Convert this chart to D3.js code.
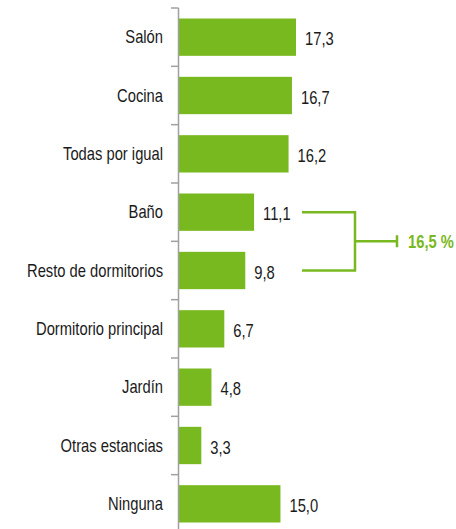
<!DOCTYPE html>
<html lang="es">
<head>
<meta charset="UTF-8">
<title>Estancias</title>
<script src="https://d3js.org/d3.v7.min.js"></script>
<style>
  body { margin: 0; background: #fff; }
  text { font-family: "Liberation Sans", Arial, sans-serif; }
</style>
</head>
<body>
<div id="chart"></div>
<script>
// data
var categories = ["Salón", "Cocina", "Todas por igual", "Baño", "Resto de dormitorios",
                  "Dormitorio principal", "Jardín", "Otras estancias", "Ninguna"]
var values = [17.3, 16.7, 16.2, 11.1, 9.8, 6.7, 4.8, 3.3, 15.0]
var groupCats = ["Baño", "Resto de dormitorios"]
var groupLabel = "16,5 %"

var width = 456
var height = 529
var green = "#79b920"
var squeeze = 0.82   // fake a condensed face

var svg = d3.select("#chart")
  .append("svg")
    .attr("width", width)
    .attr("height", height)

var data = categories.map(function(c, i){ return {cat: c, value: values[i]} })

var x0 = 179
var x = d3.scaleLinear()
  .domain([0, 17.3])
  .range([x0, 296])

var y = d3.scaleBand()
  .domain(categories)
  .range([8, 533])
  .paddingInner(0.36)
  .paddingOuter(0.18)

var gap = (y.step() - y.bandwidth()) / 2
var fmt = function(v){ return d3.format(".1f")(v).replace(".", ",") }
var place = function(px, py){ return "translate(" + px + "," + py + ") scale(" + squeeze + ",1)" }

// bars
svg.append("g")
  .selectAll("rect")
  .data(data)
  .enter()
  .append("rect")
    .attr("x", x(0))
    .attr("y", function(d){ return y(d.cat) })
    .attr("width", function(d){ return x(d.value) - x(0) })
    .attr("height", y.bandwidth())
    .attr("fill", green)

// axis line + ticks at band boundaries
var axis = svg.append("g").attr("stroke", "#a0a0a0").attr("stroke-width", 1.5)
axis.append("line")
  .attr("x1", x0 - 0.5).attr("x2", x0 - 0.5)
  .attr("y1", y.range()[0]).attr("y2", y.range()[1])
axis.selectAll("line.tick")
  .data(categories)
  .enter()
  .append("line")
    .attr("class", "tick")
    .attr("x1", x0 - 8).attr("x2", x0 - 0.5)
    .attr("y1", function(d){ return y(d) - gap })
    .attr("y2", function(d){ return y(d) - gap })

// category labels
svg.append("g")
  .selectAll("text")
  .data(data)
  .enter()
  .append("text")
    .attr("transform", function(d){ return place(163, y(d.cat) + y.bandwidth() / 2) })
    .attr("dy", "0.35em")
    .attr("text-anchor", "end")
    .attr("font-size", 18)
    .attr("fill", "#1a1a1a")
    .text(function(d){ return d.cat })

// value labels
svg.append("g")
  .selectAll("text")
  .data(data)
  .enter()
  .append("text")
    .attr("transform", function(d){ return place(x(d.value) + 9, y(d.cat) + y.bandwidth() / 2 + 2) })
    .attr("dy", "0.35em")
    .attr("font-size", 18)
    .attr("fill", "#1a1a1a")
    .text(function(d){ return fmt(d.value) })

// bracket for grouped categories
var yA = y(groupCats[0]) + y.bandwidth() / 2
var yB = y(groupCats[1]) + y.bandwidth() / 2
var yM = (yA + yB) / 2
var bx0 = 302, bx1 = 355, bx2 = 397
svg.append("path")
  .attr("d", "M" + bx0 + "," + yA + "H" + bx1 + "V" + yB + "H" + bx0 +
             "M" + bx1 + "," + yM + "H" + bx2 +
             "M" + bx2 + "," + (yM - 6) + "V" + (yM + 6))
  .attr("fill", "none")
  .attr("stroke", green)
  .attr("stroke-width", 2.5)

svg.append("text")
  .attr("transform", place(408, yM))
  .attr("dy", "0.35em")
  .attr("font-size", 18)
  .attr("font-weight", "bold")
  .attr("fill", green)
  .text(groupLabel)
</script>
</body>
</html>
